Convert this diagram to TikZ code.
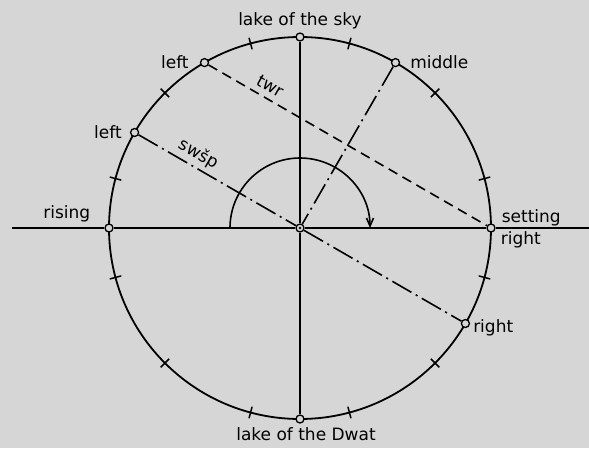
\documentclass[tikz,border=0pt]{standalone}
\usepackage{fontspec}
\setmainfont{DejaVu Sans}
\usetikzlibrary{positioning,arrows.meta}
\definecolor{paper}{gray}{0.84}
\tikzset{pt/.style={
    circle,
    draw,
    fill=paper,
    line width=1.3pt,
    inner sep=0pt,
    minimum size=8pt
  },
  lbl/.style={inner sep=1pt,font=\fontsize{17}{20}\selectfont},
  ring/.style={line width=1.8pt},
  axis/.style={line width=1.8pt},
  tickmark/.style={line width=1.5pt},
  sightline/.style={line width=1.6pt,dash pattern=on 22pt off 5pt on 2pt off 5pt},
  dashline/.style={line width=1.6pt,dash pattern=on 10pt off 6pt},
  turn/.style={line width=1.6pt,-{Straight Barb[length=8pt,width=7pt]}},
}
\def\R{191}
\def\Rin{185}
\def\Rout{197}

\begin{document}
\begin{tikzpicture}[x=1pt,y=1pt]
  \fill[paper] (-300,-220) rectangle (289,228);
  \useasboundingbox (-300,-220) rectangle (289,228);
  % horizon circle and its ticks
  \draw[ring] (0,0) circle (\R);
  \foreach \a in {15,45,...,345}
    \draw[tickmark] (\a:\Rin) -- (\a:\Rout);
  % points on the circle
  \node[pt] (skylake) at (90:\R) {};
  \node[pt] (dwatlake) at (270:\R) {};
  \node[pt] (rising) at (180:\R) {};
  \node[pt] (setting) at (0:\R) {};
  \node[pt] (leftA) at (120:\R) {};
  \node[pt] (leftB) at (150:\R) {};
  \node[pt] (middle) at (60:\R) {};
  \node[pt] (rightA) at (-30:\R) {};
  \node[pt] (centre) at (0,0) {};
  \fill (centre.center) circle (1.4);
  \coordinate (west) at (-288,0);
  \coordinate (east) at (289,0);
  % lines
  \draw[axis] (west) -- (rising) -- (centre) -- (setting) -- (east);
  \draw[axis] (skylake) -- (centre) -- (dwatlake);
  \draw[dashline] (leftA) -- node[lbl,sloped,above=5pt,pos=0.2] {twr} (setting);
  \draw[sightline] (leftB) -- node[lbl,sloped,above=3pt,pos=0.34] {swšp} (centre) -- (rightA);
  \draw[sightline] (middle) -- (centre);
  \coordinate (arcstart) at (180:70);
  \draw[turn] (arcstart) arc[start angle=180,end angle=0,radius=70];
  % labels
  \node[lbl,above=2pt of skylake] {lake of the sky};
  \node[lbl,below=3pt of dwatlake,xshift=6pt] {lake of the Dwat};
  \node[lbl,left=10pt of leftA] {left};
  \node[lbl,left=7pt of leftB] {left};
  \node[lbl,right=9pt of middle] {middle};
  \node[lbl,left=13pt of rising,yshift=14pt] {rising};
  \node[lbl,right=5pt of setting,yshift=10pt] {setting};
  \node[lbl,right=4pt of setting,yshift=-12pt] {right};
  \node[lbl,right=2pt of rightA,yshift=-4pt] {right};
\end{tikzpicture}
\end{document}
